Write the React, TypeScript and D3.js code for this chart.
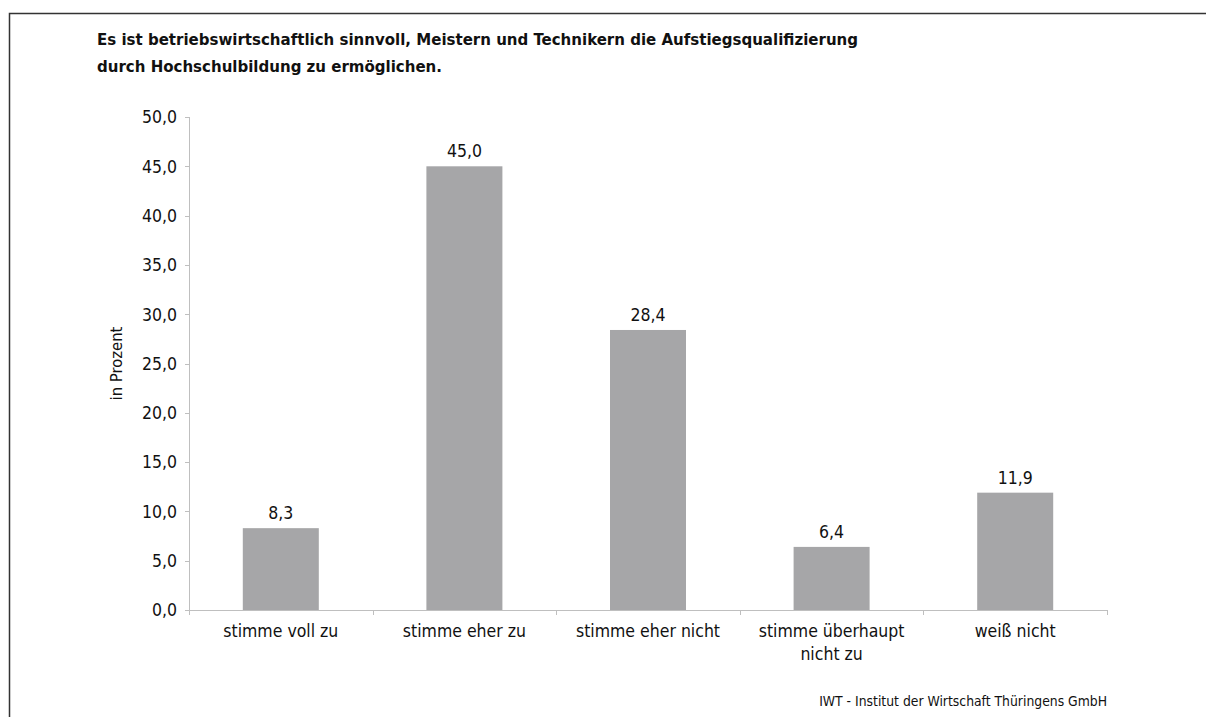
import React from "react";
import * as d3 from "d3";

const categories = ["stimme voll zu", "stimme eher zu", "stimme eher nicht", "stimme überhaupt\nnicht zu", "weiß nicht"];
const values = [8.3, 45.0, 28.4, 6.4, 11.9];
const yTicks = [0, 5, 10, 15, 20, 25, 30, 35, 40, 45, 50];
const titleLines = [
  "Es ist betriebswirtschaftlich sinnvoll, Meistern und Technikern die Aufstiegsqualifizierung",
  "durch Hochschulbildung zu ermöglichen.",
];
const yLabel = "in Prozent";
const footer = "IWT - Institut der Wirtschaft Thüringens GmbH";

const W = 1206;
const H = 717;
const FONT = "'DejaVu Sans Condensed', 'Liberation Sans Narrow', sans-serif";

export default function App() {
  const left = 189, right = 1107, top = 117, bottom = 610;
  const x = d3.scaleBand<string>().domain(categories).range([left, right]).paddingInner(0.586).paddingOuter(0.293);
  const y = d3.scaleLinear().domain([0, 50]).range([bottom, top]);
  const fmt = (v: number) => d3.format(".1f")(v).replace(".", ",");
  const axisColor = "#bfbfbf";
  const step = (right - left) / categories.length;
  return (
    <svg width={W} height={H} style={{ position: "absolute", left: 0, top: 0, background: "#fff" }} fontFamily={FONT}>
      <rect x={0} y={0} width={W} height={H} fill="#fff" />
      <path d={`M9.5,${H} V13.5 H${W}`} fill="none" stroke="#333" strokeWidth={1.5} />
      {titleLines.map((t, i) => (
        <text key={i} x={97} y={45 + i * 27} fontSize={16.7} fontWeight="bold" fill="#111">{t}</text>
      ))}
      <text transform={`translate(122,${(top + bottom) / 2}) rotate(-90)`} textAnchor="middle" fontSize={16.5} fill="#111">{yLabel}</text>
      {/* y axis */}
      <line x1={left + 0.5} x2={left + 0.5} y1={top} y2={bottom} stroke={axisColor} />
      {yTicks.map((t) => (
        <g key={t}>
          <line x1={left - 4} x2={left} y1={Math.round(y(t)) + 0.5} y2={Math.round(y(t)) + 0.5} stroke={axisColor} />
          <text x={left - 12} y={y(t)} dy="0.36em" textAnchor="end" fontSize={17.5} fill="#111">{fmt(t)}</text>
        </g>
      ))}
      {/* bars */}
      {categories.map((c, i) => (
        <g key={c}>
          <rect x={x(c)} y={y(values[i])} width={x.bandwidth()} height={bottom - y(values[i])} fill="#a6a6a8" />
          <text x={(x(c) as number) + x.bandwidth() / 2} y={y(values[i]) - 9} textAnchor="middle" fontSize={17.5} fill="#111">{fmt(values[i])}</text>
          {c.split("\n").map((ln, j) => (
            <text key={j} x={(x(c) as number) + x.bandwidth() / 2} y={637 + j * 23} textAnchor="middle" fontSize={17.5} fill="#111">{ln}</text>
          ))}
        </g>
      ))}
      {/* x axis */}
      <line x1={left} x2={right + 0.5} y1={bottom + 0.5} y2={bottom + 0.5} stroke={axisColor} />
      {d3.range(categories.length + 1).map((i) => (
        <line key={i} x1={Math.round(left + i * step) + 0.5} x2={Math.round(left + i * step) + 0.5} y1={bottom} y2={bottom + 5} stroke={axisColor} />
      ))}
      <text x={right} y={706} textAnchor="end" fontSize={13.8} fill="#111">{footer}</text>
    </svg>
  );
}
